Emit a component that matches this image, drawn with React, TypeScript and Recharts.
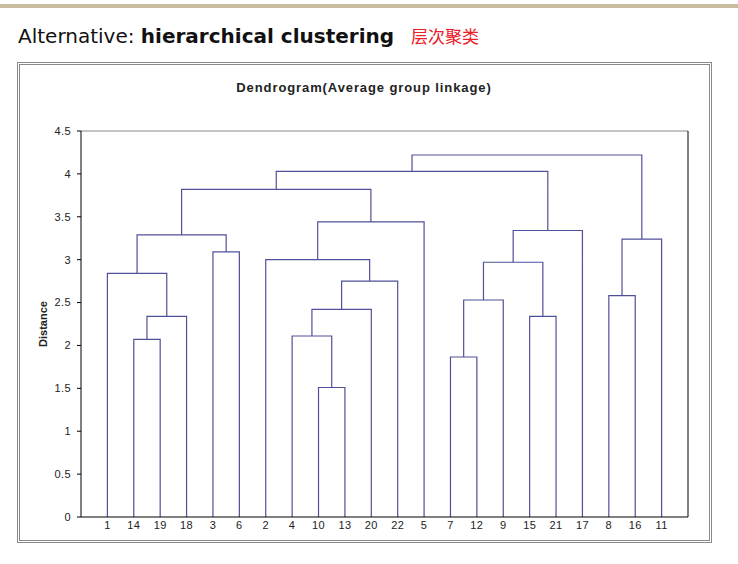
import React from 'react';
import { LineChart, Line, XAxis, YAxis, ReferenceLine } from 'recharts';

// --- Data ---
// leaf order along the x axis
const leaves = ['1', '14', '19', '18', '3', '6', '2', '4', '10', '13', '20', '22', '5', '7', '12', '9', '15', '21', '17', '8', '16', '11'];
// merge steps, named A..U, children are leaves or earlier merges
const mergeNames = ['A', 'B', 'C', 'D', 'E', 'F', 'G', 'H', 'I', 'J', 'K', 'L', 'M', 'N', 'O', 'P', 'Q', 'R', 'S', 'T', 'U'];
const mergeLeft = ['14', 'A', '1', '3', 'C', '10', '4', 'G', 'H', '2', 'J', 'E', '7', 'M', '15', 'N', 'P', 'L', '8', 'S', 'R'];
const mergeRight = ['19', '18', 'B', '6', 'D', '13', 'F', '20', '22', 'I', '5', 'K', '12', '9', '21', 'O', '17', 'Q', '16', '11', 'T'];
const mergeHeight = [2.07, 2.34, 2.84, 3.09, 3.29, 1.51, 2.11, 2.42, 2.75, 3.0, 3.44, 3.82, 1.865, 2.53, 2.34, 2.97, 3.34, 4.03, 2.58, 3.24, 4.22];
const yTicks = [0, 0.5, 1, 1.5, 2, 2.5, 3, 3.5, 4, 4.5];

const LINE_COLOR = '#50509a';
const FONT = '"Liberation Sans", Arial, sans-serif';
const TICK_STYLE = { fontSize: 11, fill: '#222', fontFamily: FONT, letterSpacing: 0.4 };

// build one 4-point link (left leg, bar, right leg) per merge
function buildLinks() {
  const pos: Record<string, { x: number; h: number }> = {};
  leaves.forEach((l, i) => {
    pos[l] = { x: i + 1, h: 0 };
  });
  return mergeNames.map((name, i) => {
    const a = pos[mergeLeft[i]];
    const b = pos[mergeRight[i]];
    const h = mergeHeight[i];
    pos[name] = { x: (a.x + b.x) / 2, h };
    return [
      { x: a.x, y: a.h },
      { x: a.x, y: h },
      { x: b.x, y: h },
      { x: b.x, y: b.h },
    ];
  });
}

const links = buildLinks();

export default function App() {
  return (
    <div style={{ position: 'absolute', left: 0, top: 0, width: 738, height: 564, background: '#fff', overflow: 'hidden' }}>
      {/* slide header */}
      <div style={{ position: 'absolute', left: 0, top: 4, width: 738, height: 4, background: '#c9bb9f' }} />
      <div
        style={{
          position: 'absolute',
          left: 18,
          top: 23,
          fontFamily: '"DejaVu Sans", sans-serif',
          fontSize: 20,
          color: '#111',
          whiteSpace: 'nowrap',
        }}
      >
        Alternative: <b>hierarchical clustering</b>
        <span style={{ color: '#e8202a', fontSize: 17, marginLeft: 17, fontFamily: '"Noto Sans CJK SC", sans-serif' }}>层次聚类</span>
      </div>

      {/* chart frame */}
      <div
        style={{
          position: 'absolute',
          left: 17,
          top: 62,
          width: 689,
          height: 475,
          border: '3px double #8a8a8a',
        }}
      />
      <div
        style={{
          position: 'absolute',
          left: 0,
          width: 728,
          top: 80,
          textAlign: 'center',
          fontFamily: FONT,
          fontSize: 13,
          letterSpacing: 0.9,
          fontWeight: 'bold',
          color: '#222',
        }}
      >
        Dendrogram(Average group linkage)
      </div>

      <div style={{ position: 'absolute', left: 0, top: 0 }}>
        <LineChart width={738} height={564} margin={{ top: 131, right: 50, bottom: 27, left: 41 }}>
          <XAxis
            dataKey="x"
            type="number"
            domain={[0, 23]}
            ticks={leaves.map((_, i) => i + 1)}
            tickFormatter={(v: number) => leaves[v - 1]}
            interval={0}
            height={20}
            tickLine={false}
            tickSize={2}
            tickMargin={2}
            axisLine={{ stroke: '#000' }}
            tick={TICK_STYLE}
            allowDataOverflow
          />
          <YAxis
            type="number"
            domain={[0, 4.5]}
            ticks={yTicks}
            width={40}
            tickSize={4}
            tickMargin={6}
            axisLine={{ stroke: '#000' }}
            tickLine={{ stroke: '#000' }}
            tick={TICK_STYLE}
            label={{
              value: 'Distance',
              angle: -90,
              position: 'insideLeft',
              offset: 2,
              style: { fontSize: 11, fontWeight: 'bold', fill: '#222', fontFamily: FONT, textAnchor: 'middle' },
            }}
          />
          <ReferenceLine y={4.5} stroke="#888" />
          <ReferenceLine x={23} stroke="#000" />
          {links.map((pts, i) => (
            <Line
              key={mergeNames[i]}
              data={pts}
              dataKey="y"
              type="linear"
              stroke={LINE_COLOR}
              strokeWidth={1.2}
              dot={false}
              activeDot={false}
              isAnimationActive={false}
            />
          ))}
        </LineChart>
      </div>
    </div>
  );
}
